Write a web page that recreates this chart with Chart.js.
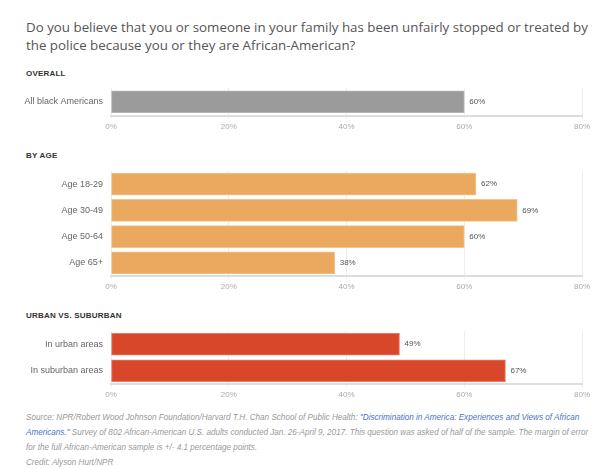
<!DOCTYPE html>
<html><head><meta charset="utf-8">
<script src="https://cdn.jsdelivr.net/npm/chart.js@4/dist/chart.umd.min.js"></script>
<style>
html,body{margin:0;padding:0;background:#fff;width:600px;height:469px;overflow:hidden;}
.t{position:absolute;left:26px;white-space:nowrap;}
#title{top:18px;font-family:"Open Sans",sans-serif;font-size:14px;line-height:18px;color:#555;}
#title span{display:inline-block;}
.h{font-family:"Liberation Sans",Arial,sans-serif;font-weight:bold;font-size:8px;color:#333;letter-spacing:0.2px;}
.c{position:absolute;left:0;width:600px;}
#note{top:410px;font-family:"Liberation Sans",Arial,sans-serif;font-style:italic;font-size:8.15px;line-height:15px;color:#999;white-space:normal;width:570px;}
#note a{color:#4a72c4;text-decoration:none;}
</style></head><body>
<div id="title" class="t"><span id="tl1">Do you believe that you or someone in your family has been unfairly stopped or treated by</span><br><span>the police because you or they are African-American?</span></div>
<div class="t h" style="top:69px">OVERALL</div>
<div class="t h" style="top:151px">BY AGE</div>
<div class="t h" style="top:311px">URBAN VS. SUBURBAN</div>
<div class="c" style="top:87.5px;height:49.5px"><canvas id="c1"></canvas></div>
<div class="c" style="top:170.5px;height:127px"><canvas id="c2"></canvas></div>
<div class="c" style="top:330.5px;height:75px"><canvas id="c3"></canvas></div>
<div id="note" class="t">Source: NPR/Robert Wood Johnson Foundation/Harvard T.H. Chan School of Public Health: <a>"Discrimination in America: Experiences and Views of African Americans."</a> Survey of 802 African-American U.S. adults conducted Jan. 26-April 9, 2017. This question was asked of half of the sample. The margin of error for the full African-American sample is +/- 4.1 percentage points.<br>Credit: Alyson Hurt/NPR</div>
<script>
// fit title first line to the reference width
(function(){
  const t = document.getElementById('title');
  const l1 = document.getElementById('tl1');
  const w = l1.getBoundingClientRect().width;
  const target = 562;
  t.style.fontSize = (14 * target / w).toFixed(2) + 'px';
})();

const overallLabels = ["All black Americans"];
const overallValues = [60];
const ageLabels = ["Age 18-29", "Age 30-49", "Age 50-64", "Age 65+"];
const ageValues = [62, 69, 60, 38];
const areaLabels = ["In urban areas", "In suburban areas"];
const areaValues = [49, 67];
const xTicks = [0, 20, 40, 60, 80];

const valueLabelPlugin = {
  id: 'valueLabels',
  afterDatasetsDraw(chart) {
    const ctx = chart.ctx;
    const meta = chart.getDatasetMeta(0);
    const data = chart.data.datasets[0].data;
    ctx.save();
    ctx.font = '8px "Liberation Sans", Arial, sans-serif';
    ctx.fillStyle = '#555';
    ctx.textBaseline = 'middle';
    ctx.textAlign = 'left';
    meta.data.forEach((bar, i) => {
      ctx.fillText(data[i] + '%', bar.x + 5, bar.y);
    });
    ctx.restore();
  }
};

function makeChart(id, labels, values, color, border) {
  new Chart(document.getElementById(id), {
    type: 'bar',
    data: { labels: labels, datasets: [{ data: values, backgroundColor: color, borderColor: border, borderWidth: 1, borderSkipped: false, barThickness: 22 }] },
    options: {
      indexAxis: 'y',
      responsive: true,
      maintainAspectRatio: false,
      animation: false,
      layout: { padding: { left: 0, right: 18, top: 0, bottom: 0 } },
      plugins: { legend: { display: false }, tooltip: { enabled: false } },
      scales: {
        x: {
          min: 0, max: 80,
          afterBuildTicks: s => { s.ticks = xTicks.map(v => ({ value: v })); },
          afterFit: s => { s.height = 22; s.paddingLeft = 0; s.paddingRight = 0; },
          grid: { color: '#eeeeee', lineWidth: 1, drawTicks: true, tickLength: 3, tickColor: '#eeeeee' },
          border: { display: true, color: '#dddddd', width: 2 },
          ticks: { padding: 3, color: '#aaaaaa', font: { size: 8, family: '"Liberation Sans", Arial, sans-serif' }, callback: v => v + '%', maxRotation: 0 }
        },
        y: {
          afterFit: s => { s.width = 111; s.paddingTop = 0; s.paddingBottom = 0; },
          grid: { display: false, drawTicks: false },
          border: { display: false },
          ticks: { padding: 8, color: '#666666', font: { size: 9, family: '"Liberation Sans", Arial, sans-serif' } }
        }
      }
    },
    plugins: [valueLabelPlugin]
  });
}
makeChart('c1', overallLabels, overallValues, '#9b9b9b', '#b5b5b5');
makeChart('c2', ageLabels, ageValues, '#eaa95f', '#f3c48f');
makeChart('c3', areaLabels, areaValues, '#d9472b', '#e87a64');
</script>
</body></html>
